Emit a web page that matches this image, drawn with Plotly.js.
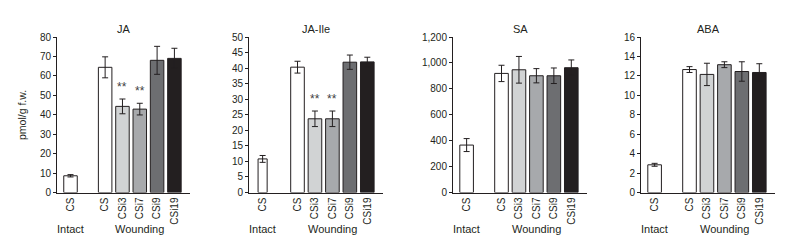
<!DOCTYPE html>
<html>
<head>
<meta charset="utf-8">
<script src="https://cdn.plot.ly/plotly-3.0.1.min.js"></script>
<style>html,body{margin:0;padding:0;background:#fff;}#chart{width:798px;height:247px;}</style>
</head>
<body>
<div id="chart"></div>
<script>
// ---- data ----
const categories = ["CS", "CS", "CSi3", "CSi7", "CSi9", "CSi19"];
const groups = ["Intact", "Wounding"];
const panelTitles = ["JA", "JA-Ile", "SA", "ABA"];

const jaValues = [8.6, 64.4, 44.3, 42.9, 68.0, 69.0];
const jaErrors = [0.6, 5.4, 3.8, 3.0, 7.2, 5.2];
const jaIleValues = [10.8, 40.3, 23.7, 23.7, 41.9, 42.0];
const jaIleErrors = [1.1, 1.9, 2.5, 2.5, 2.3, 1.5];
const saValues = [366, 919, 947, 901, 901, 963];
const saErrors = [50, 63, 103, 55, 60, 60];
const abaValues = [2.85, 12.65, 12.15, 13.15, 12.45, 12.35];
const abaErrors = [0.15, 0.3, 1.15, 0.3, 1.0, 0.9];

const yMax = [80, 50, 1200, 16];
const yStep = [10, 5, 200, 2];
const significant = [[false, false, true, true, false, false],
                     [false, false, true, true, false, false],
                     [false, false, false, false, false, false],
                     [false, false, false, false, false, false]];
const yLabel = "pmol/g f.w.";

// ---- styling ----
const ink = "#231f20";
const barColors = ["#ffffff", "#ffffff", "#d1d3d4", "#a7a9ac", "#6d6e71", "#231f20"];
const font = "Liberation Sans, Arial, sans-serif";
const W = 798, H = 247;
const domainsPx = [[57, 190], [249, 383], [453, 587], [641, 775]];
const yBottomPx = 192.5, yTopPx = 37;
const xr = [-0.78, 6.9];

const values = [jaValues, jaIleValues, saValues, abaValues];
const errors = [jaErrors, jaIleErrors, saErrors, abaErrors];
const pos = categories.map((c, i) => i === 0 ? 0 : i + 1);

const traces = [];
const layout = {
  width: W, height: H,
  margin: {l: 0, r: 0, t: 0, b: 0},
  paper_bgcolor: "#fff", plot_bgcolor: "#fff",
  showlegend: false,
  font: {family: font, color: ink, size: 10},
  annotations: []
};

values.forEach((vals, p) => {
  const ax = p === 0 ? "" : String(p + 1);
  const widths = pos.map((x, i) => (p === 1 && i === 0) ? 0.52 : 0.78);
  traces.push({
    type: "bar",
    x: pos, y: vals,
    width: widths,
    xaxis: "x" + ax, yaxis: "y" + ax,
    marker: {color: barColors, line: {color: ink, width: 1}},
    error_y: {type: "data", array: errors[p], visible: true, color: ink, thickness: 1, width: 3},
    hoverinfo: "none"
  });
  const d = domainsPx[p];
  layout["xaxis" + ax] = {
    domain: [d[0] / W, d[1] / W],
    range: xr,
    anchor: "y" + ax,
    tickvals: pos, ticktext: categories,
    tickangle: -90,
    ticks: "",
    showgrid: false, zeroline: false,
    showline: true, linecolor: ink, linewidth: 1,
    tickfont: {family: font, size: 10, color: ink},
    fixedrange: true
  };
  layout["yaxis" + ax] = {
    domain: [1 - yBottomPx / H, 1 - yTopPx / H],
    range: [0, yMax[p]],
    dtick: yStep[p], tick0: 0,
    tickformat: ",d",
    anchor: "x" + ax,
    ticks: "outside", ticklen: 3, tickcolor: ink, tickwidth: 1,
    showgrid: false, zeroline: false,
    showline: true, linecolor: ink, linewidth: 1,
    tickfont: {family: font, size: 10, color: ink},
    fixedrange: true
  };
  // panel title
  layout.annotations.push({
    text: panelTitles[p], xref: "paper", yref: "paper",
    x: (d[0] + d[1]) / 2 / W, y: 1 - 29 / H,
    showarrow: false, font: {family: font, size: 11, color: ink},
    xanchor: "center", yanchor: "middle"
  });
  // group labels
  [[groups[0], 0], [groups[1], 4]].forEach(([g, gx]) => {
    layout.annotations.push({
      text: g, xref: "x" + ax, yref: "paper",
      x: gx, y: 1 - 229 / H,
      showarrow: false, font: {family: font, size: 11, color: ink},
      xanchor: "center", yanchor: "middle"
    });
  });
  // significance stars
  significant[p].forEach((s, i) => {
    if (!s) return;
    layout.annotations.push({
      text: "**", xref: "x" + ax, yref: "y" + ax,
      x: pos[i], y: vals[i] + errors[p][i],
      yshift: 12,
      showarrow: false, font: {family: font, size: 12, color: "#414042"},
      xanchor: "center", yanchor: "middle"
    });
  });
});

layout.annotations.push({
  text: yLabel, xref: "paper", yref: "paper",
  x: 22 / W, y: 1 - 115 / H, textangle: -90,
  showarrow: false, font: {family: font, size: 10.5, color: ink},
  xanchor: "center", yanchor: "middle"
});

Plotly.newPlot("chart", traces, layout, {displayModeBar: false, staticPlot: true});
</script>
</body>
</html>
